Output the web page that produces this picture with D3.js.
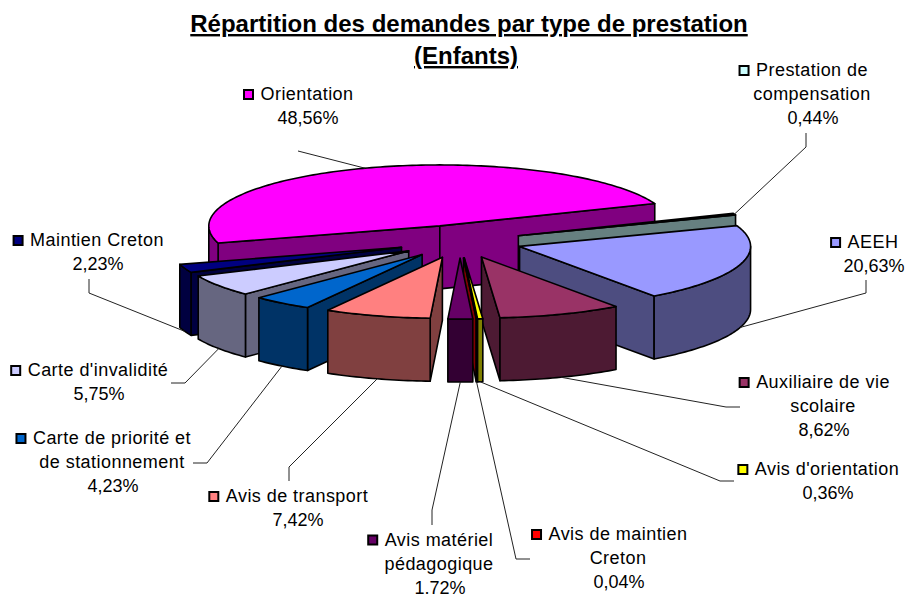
<!DOCTYPE html>
<html>
<head>
<meta charset="utf-8">
<script src="https://d3js.org/d3.v7.min.js"></script>
<style>
    html, body { margin: 0; padding: 0; background: #fff; }
    svg { display: block; }
    text { font-family: "Liberation Sans", Arial, sans-serif; fill: #000; }
    .title { font-size: 24px; font-weight: bold; text-anchor: middle; text-decoration: underline; }
    .lb { font-size: 18px; text-anchor: middle; letter-spacing: 0.45px; }
    .pct { font-size: 18px; text-anchor: middle; }
</style>
</head>
<body>
<div id="main"></div>
<script>
const categories = [
    ["Orientation"],
    ["Prestation de", "compensation"],
    ["AEEH"],
    ["Auxiliaire de vie", "scolaire"],
    ["Avis d'orientation"],
    ["Avis de maintien", "Creton"],
    ["Avis matériel", "pédagogique"],
    ["Avis de transport"],
    ["Carte de priorité et", "de stationnement"],
    ["Carte d'invalidité"],
    ["Maintien Creton"]
];
const values = [48.56, 0.44, 20.63, 8.62, 0.36, 0.04, 1.72, 7.42, 4.23, 5.75, 2.23];
const sliceColors = ["#FF00FF", "#CCFFFF", "#9999FF", "#993366", "#FFFF00", "#FF0000",
                     "#660066", "#FF8080", "#0066CC", "#CCCCFF", "#000080"];
const titleLines = ["Répartition des demandes par type de prestation", "(Enfants)"];

// where each label sits (text centre, first baseline) and the bends of its leader
const labelPos = [
    {x: 307, y: 100, bends: [[298, 151]]},
    {x: 812, y: 76,  bends: [[806, 147], [806, 133]]},
    {x: 873, y: 248, bends: [[866, 293], [866, 280]]},
    {x: 823, y: 388, bends: [[726, 407], [740, 407]]},
    {x: 827, y: 475, bends: [[720, 481], [734, 481]]},
    {x: 618, y: 540, bends: [[516, 559], [530, 559]]},
    {x: 439, y: 545.5, bends: [[432, 510], [432, 525]]},
    {x: 297, y: 502, bends: [[289, 467], [289, 481]]},
    {x: 112, y: 444, bends: [[207, 463], [193, 463]]},
    {x: 98,  y: 376, bends: [[185, 383], [171, 383]]},
    {x: 97,  y: 246, bends: [[89, 293], [89, 279]]}
];

const ctx = {
    w: 905, h: 594,
    cx: 460, cy: 241.5,     // centre of the pie's top face
    rx: 231, ry: 61,
    depth: 63,
    explode: 0.27,
    firstAngle: -106.3 * Math.PI / 180,
    lineH: 24
};

const xScale = d3.scaleLinear().domain([-1, 1]).range([ctx.cx - ctx.rx, ctx.cx + ctx.rx]);
const yScale = d3.scaleLinear().domain([-1, 1]).range([ctx.cy + ctx.ry, ctx.cy - ctx.ry]);
const polyLine = d3.line();

// unit pie coords -> screen, angle clockwise from the back of the pie
function project(a, r, off, drop) {
    return [xScale(off.u + r * Math.sin(a)), yScale(off.v + r * Math.cos(a)) + (drop || 0)];
}

function rimAngles(a0, a1) {
    let n = Math.max(2, Math.ceil((a1 - a0) / 0.02));
    return d3.range(n + 1).map((i) => a0 + (a1 - a0) * i / n);
}

function drawSlice(g, s) {
    let mid = (s.startAngle + s.endAngle) / 2;
    let off = {u: ctx.explode * Math.sin(mid), v: ctx.explode * Math.cos(mid)};
    let top = s.color;
    let c = d3.rgb(top);
    let side = d3.rgb(c.r / 2, c.g / 2, c.b / 2).formatHex();
    let apex = project(0, 0, off);
    let apexLow = project(0, 0, off, ctx.depth);
    let sg = g.append("g")
              .attr("stroke", "#000").attr("stroke-width", 1.6)
              .attr("stroke-linejoin", "round");

    // radial walls, only those turned to the viewer
    [s.startAngle, s.endAngle].forEach(function(a, i) {
        let visible = i == 0 ? Math.sin(a) < 0 : Math.sin(a) > 0;
        if (!visible) return;
        sg.append("path")
          .attr("fill", side)
          .attr("d", polyLine([apex, project(a, 1, off), project(a, 1, off, ctx.depth), apexLow]) + "Z");
    });

    // outer wall: front half of the rim (cos < 0)
    [[-1.5 * Math.PI, -Math.PI / 2], [Math.PI / 2, 1.5 * Math.PI]].forEach(function(range) {
        let lo = Math.max(s.startAngle, range[0]);
        let hi = Math.min(s.endAngle, range[1]);
        if (hi <= lo) return;
        let angles = rimAngles(lo, hi);
        let upper = angles.map((a) => project(a, 1, off));
        let lower = angles.map((a) => project(a, 1, off, ctx.depth)).reverse();
        sg.append("path")
          .attr("fill", side)
          .attr("d", polyLine(upper.concat(lower)) + "Z");
    });

    // top face
    let rim = rimAngles(s.startAngle, s.endAngle).map((a) => project(a, 1, off));
    sg.append("path")
      .attr("fill", top)
      .attr("d", polyLine([apex].concat(rim)) + "Z");
}

function drawLeader(g, s) {
    let mid = (s.startAngle + s.endAngle) / 2;
    let off = {u: ctx.explode * Math.sin(mid), v: ctx.explode * Math.cos(mid)};
    // back slices are tied to the top rim, front ones to the bottom of the wall
    let start = project(mid, 1, off, Math.cos(mid) < 0 ? ctx.depth : 0);
    g.append("path")
     .attr("fill", "none").attr("stroke", "#222").attr("stroke-width", 1)
     .attr("d", polyLine([start].concat(s.pos.bends)));
}

function drawLabel(g, s, i) {
    let names = categories[i];
    let first;
    names.forEach(function(t, j) {
        let el = g.append("text").attr("class", "lb")
                  .attr("x", s.pos.x)
                  .attr("y", s.pos.y + j * ctx.lineH)
                  .text(t);
        if (j == 0) first = el;
    });
    g.append("text").attr("class", "pct")
     .attr("x", s.pos.x + 1)
     .attr("y", s.pos.y + names.length * ctx.lineH)
     .text(d3.format(".2f")(values[i]).replace(".", ",") + "%");
    // legend key sits just left of the first line
    let tw = first.node().getComputedTextLength();
    g.append("rect")
     .attr("x", s.pos.x - tw / 2 - 16.5).attr("y", s.pos.y - 10)
     .attr("width", 9).attr("height", 9)
     .attr("fill", s.color)
     .attr("stroke", "#000").attr("stroke-width", 2);
}

function createViz() {
    let svgEl = d3.select("#main").append("svg")
                  .attr("width", ctx.w).attr("height", ctx.h);

    titleLines.forEach(function(t, i) {
        svgEl.append("text").attr("class", "title")
             .attr("x", i == 0 ? 469 : 466).attr("y", 32 + i * 32)
             .text(t);
    });

    let pie = d3.pie().sort(null)
                .startAngle(ctx.firstAngle)
                .endAngle(ctx.firstAngle + 2 * Math.PI);
    let slices = pie(values).map(function(d, i) {
        return {startAngle: d.startAngle, endAngle: d.endAngle, color: sliceColors[i], pos: labelPos[i]};
    });

    // painter's order: back of the pie first
    let ordered = slices.slice().sort(function(a, b) {
        return d3.descending(Math.cos((a.startAngle + a.endAngle) / 2),
                             Math.cos((b.startAngle + b.endAngle) / 2));
    });
    let pieG = svgEl.append("g").attr("id", "pieG");
    ordered.forEach((s) => drawSlice(pieG, s));

    let leadG = svgEl.append("g").attr("id", "leadG");
    let lbG = svgEl.append("g").attr("id", "lbG");
    slices.forEach(function(s, i) {
        drawLeader(leadG, s);
        drawLabel(lbG, s, i);
    });
}

createViz();
</script>
</body>
</html>
